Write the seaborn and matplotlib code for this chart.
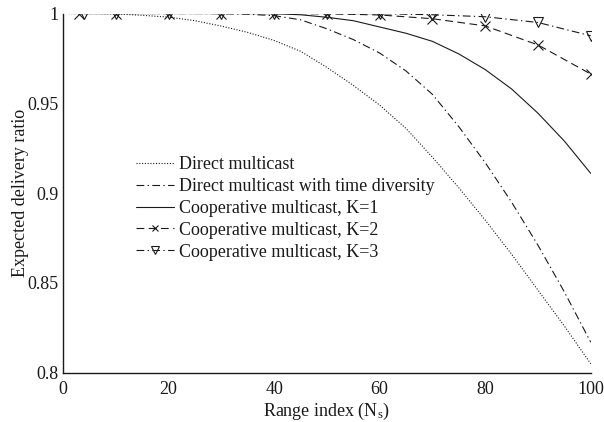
import numpy as np
import pandas as pd
import matplotlib
matplotlib.use("Agg")
import matplotlib.pyplot as plt
import seaborn as sns

# ---- data ----
x_direct = [1, 5, 10, 15, 20, 25, 30, 35, 40, 45, 50, 55, 60, 65, 70, 75, 80, 85, 90, 95, 100]
y_direct = [1.0, 1.0, 0.9998, 0.999, 0.998, 0.996, 0.993, 0.9895, 0.985, 0.979, 0.970,
            0.960, 0.949, 0.936, 0.920, 0.903, 0.885, 0.866, 0.846, 0.826, 0.805]

x_time = [1, 5, 10, 15, 20, 25, 30, 35, 40, 45, 50, 55, 60, 65, 70, 75, 80, 85, 90, 95, 100]
y_time = [1.0, 1.0, 1.0, 1.0, 1.0, 1.0, 0.9999, 0.9996, 0.9988, 0.9965, 0.9915, 0.9855,
          0.978, 0.968, 0.955, 0.937, 0.917, 0.895, 0.871, 0.845, 0.817]

x_k1 = [2, 5, 10, 15, 20, 25, 30, 35, 40, 45, 50, 55, 60, 65, 70, 75, 80, 85, 90, 95, 100]
y_k1 = [1.0, 1.0, 1.0, 1.0, 1.0, 1.0, 1.0, 1.0, 0.9999, 0.9993, 0.9979, 0.996, 0.9925,
        0.989, 0.9845, 0.9775, 0.9688, 0.958, 0.9445, 0.929, 0.911]

x_k2 = [3, 10, 20, 30, 40, 50, 60, 70, 80, 90, 100]
y_k2 = [1.0, 1.0, 1.0, 1.0, 1.0, 0.9998, 0.9992, 0.9971, 0.9931, 0.9825, 0.9663]

x_k3 = [4, 10, 20, 30, 40, 50, 60, 70, 80, 90, 100]
y_k3 = [1.0, 1.0, 1.0, 1.0, 1.0, 1.0, 0.9999, 0.9993, 0.9982, 0.9950, 0.9876]

labels = ["Direct multicast",
          "Direct multicast with time diversity",
          "Cooperative multicast, K=1",
          "Cooperative multicast, K=2",
          "Cooperative multicast, K=3"]

x_ticks = [0, 20, 40, 60, 80, 100]
y_ticks = [0.8, 0.85, 0.9, 0.95, 1.0]
y_ticklabels = ["0.8", "0.85", "0.9", "0.95", "1"]

# ---- style ----
sns.set_theme(style="white")
plt.rcParams["font.family"] = ["Liberation Serif", "DejaVu Serif"]
plt.rcParams["mathtext.fontset"] = "custom"
plt.rcParams["mathtext.rm"] = "Liberation Serif"
plt.rcParams["mathtext.it"] = "Liberation Serif:italic"
plt.rcParams["xtick.direction"] = "in"
plt.rcParams["ytick.direction"] = "in"

fig = plt.figure(figsize=(6.04, 4.22), dpi=100)
ax = fig.add_axes([0.1043, 0.1168, 0.978 - 0.1043, 0.968 - 0.1168])

lw = 0.8
common = dict(color="k", lw=lw, ax=ax, estimator=None, sort=False)
sns.lineplot(x=x_direct, y=y_direct, linestyle=(0, (1, 1.5)), label=labels[0], **common)
sns.lineplot(x=x_time, y=y_time, linestyle=(0, (7, 3, 1.2, 3)), label=labels[1], **common)
sns.lineplot(x=x_k1, y=y_k1, linestyle="-", label=labels[2], **common)
sns.lineplot(x=x_k2, y=y_k2, linestyle=(0, (7, 4)), marker="x", markersize=6.5,
             markeredgecolor="k", markerfacecolor="none", markeredgewidth=0.8,
             label=labels[3], **common)
sns.lineplot(x=x_k3, y=y_k3, linestyle=(0, (7, 3, 1.2, 3)), marker="v", markersize=7,
             markeredgecolor="k", markerfacecolor="none", markeredgewidth=0.8,
             label=labels[4], **common)

ax.set_xlim(0, 100)
ax.set_ylim(0.8, 1.0)
ax.set_xticks(x_ticks)
ax.set_xticklabels([str(t) for t in x_ticks])
ax.set_yticks(y_ticks)
ax.set_yticklabels(y_ticklabels)
ax.tick_params(axis="both", labelsize=13, colors="k", length=5, width=0.8,
               direction="in", pad=3)
ax.tick_params(axis="x", pad=6)
for s in ["top", "right"]:
    ax.spines[s].set_visible(False)
for s in ["left", "bottom"]:
    ax.spines[s].set_color("k")
    ax.spines[s].set_linewidth(1.0)

ax.set_xlabel(r"Range index (N$_\mathrm{s}$)", fontsize=13, color="k", labelpad=2)
ax.set_ylabel("Expected delivery ratio", fontsize=13, color="k", labelpad=-1)

leg = ax.legend(loc="upper left", bbox_to_anchor=(0.125, 0.623), frameon=False,
                fontsize=13, handlelength=2.1, handletextpad=0.25,
                labelspacing=0.27, borderaxespad=0, markerscale=0.75)
for t in leg.get_texts():
    t.set_color("k")

fig.savefig("out.png", dpi=100, facecolor="white")
